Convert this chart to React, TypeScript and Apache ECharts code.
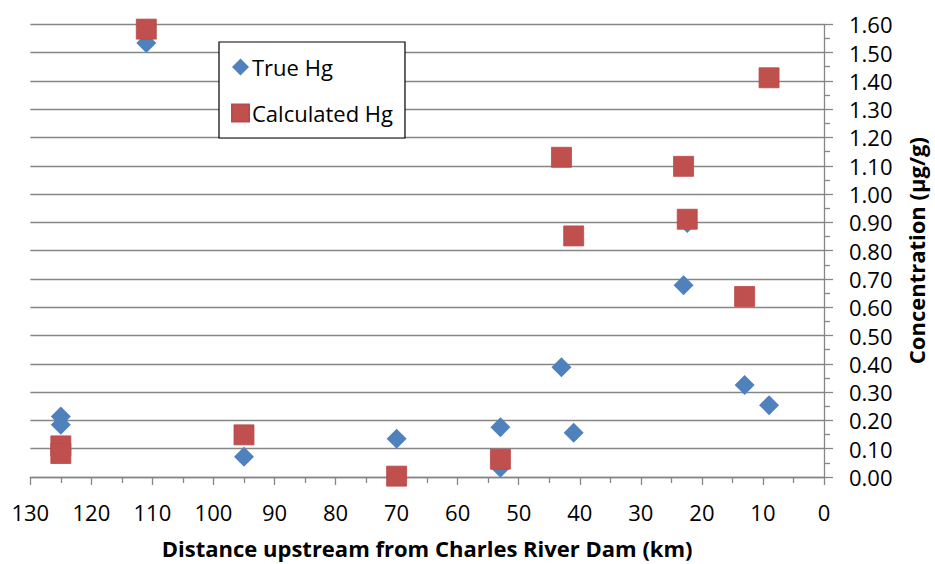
import React, { useEffect, useRef } from "react";
import * as echarts from "echarts";

const trueX = [125, 125, 111, 95, 70, 53, 53, 43, 41, 23, 22.4, 13, 9];
const trueY = [0.214, 0.185, 1.534, 0.072, 0.135, 0.176, 0.033, 0.388, 0.156, 0.678, 0.898, 0.325, 0.254];
const calcX = [125, 125, 111, 95, 70, 53, 43, 41, 23, 22.4, 13, 9];
const calcY = [0.11, 0.083, 1.583, 0.149, 0.003, 0.063, 1.13, 0.852, 1.098, 0.911, 0.638, 1.411];

const xTitle = "Distance upstream from Charles River Dam (km)";
const yTitle = "Concentration (µg/g)";
const seriesNames = ["True Hg", "Calculated Hg"];

const FONT = "Open Sans";
const AXIS_GRAY = "#868686";

export default function App() {
  const ref = useRef<HTMLDivElement>(null);
  useEffect(() => {
    if (!ref.current) return;
    const chart = echarts.init(ref.current, null, { renderer: "svg" });
    chart.setOption({
      animation: false,
      backgroundColor: "#ffffff",
      textStyle: { fontFamily: FONT },
      grid: { left: 30.3, right: 102.3, top: 24.3, bottom: 84.7, containLabel: false },
      legend: {
        orient: "vertical",
        left: 219,
        top: 42,
        padding: [14, 12, 14, 12],
        itemGap: 24,
        itemWidth: 17,
        itemHeight: 17,
        borderColor: "#000000",
        borderWidth: 1.2,
        backgroundColor: "#ffffff",
        textStyle: { fontFamily: FONT, fontSize: 22, color: "#000000", padding: [0, 0, 0, -2] },
        data: seriesNames,
      },
      xAxis: {
        type: "value",
        inverse: true,
        min: 0,
        max: 130,
        interval: 10,
        name: xTitle,
        nameLocation: "middle",
        nameGap: 60,
        nameTextStyle: { fontFamily: FONT, fontSize: 22, fontWeight: "bold", color: "#000000" },
        axisLine: { show: true, onZero: false, lineStyle: { color: AXIS_GRAY, width: 1.3 } },
        axisTick: { show: true, length: 8, lineStyle: { color: AXIS_GRAY, width: 1.3 } },
        minorTick: { show: true, splitNumber: 2, length: 6, lineStyle: { color: AXIS_GRAY, width: 1.3 } },
        axisLabel: { fontFamily: FONT, fontSize: 22, color: "#000000", margin: 24 },
        splitLine: { show: false },
      },
      yAxis: {
        type: "value",
        position: "right",
        min: 0,
        max: 1.6,
        interval: 0.1,
        name: yTitle,
        nameLocation: "middle",
        nameRotate: 90,
        nameGap: 81,
        nameTextStyle: { fontFamily: FONT, fontSize: 22, fontWeight: "bold", color: "#000000" },
        axisLine: { show: true, lineStyle: { color: AXIS_GRAY, width: 1.3 } },
        axisTick: { show: true, length: 9, lineStyle: { color: AXIS_GRAY, width: 1.3 } },
        minorTick: { show: true, splitNumber: 2, length: 6, lineStyle: { color: AXIS_GRAY, width: 1.3 } },
        axisLabel: {
          fontFamily: FONT,
          fontSize: 22,
          color: "#000000",
          margin: 25,
          formatter: (v: number) => v.toFixed(2),
        },
        splitLine: { show: true, lineStyle: { color: AXIS_GRAY, width: 1.3 } },
      },
      series: [
        {
          name: seriesNames[0],
          type: "scatter",
          symbol: "diamond",
          symbolSize: [20, 20],
          itemStyle: { color: "#4F81BD", opacity: 1 },
          data: trueX.map((x, i) => [x, trueY[i]]),
        },
        {
          name: seriesNames[1],
          type: "scatter",
          symbol: "rect",
          symbolSize: [20, 20],
          itemStyle: { color: "#C0504D", borderColor: "#B9494A", borderWidth: 0.8, opacity: 1 },
          data: calcX.map((x, i) => [x, calcY[i]]),
        },
      ],
    });
    return () => chart.dispose();
  }, []);
  return (
    <div
      ref={ref}
      style={{ position: "fixed", left: 0, top: 0, width: 935, height: 564, background: "#fff" }}
    />
  );
}
